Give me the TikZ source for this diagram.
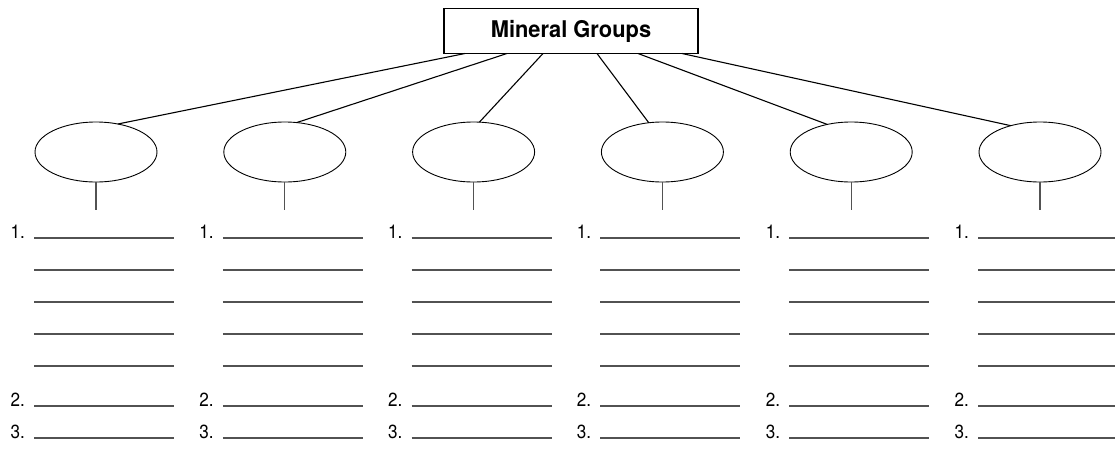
\documentclass[tikz,border=0pt]{standalone}
\usepackage{fontspec}
\newfontfamily\titlefont[FakeStretch=0.95]{TeX Gyre Heros}
\newfontfamily\numfont[FakeStretch=0.9]{TeX Gyre Heros}
\usetikzlibrary{shapes, positioning}

\begin{document}
\begin{tikzpicture}[x=1pt,y=-1pt,line width=1.1pt]
	
	\tikzset{title st/.style={rectangle, draw, minimum width=254pt,
			minimum height=45pt, inner sep=0pt, outer sep=0pt,
			font=\titlefont\bfseries\fontsize{23}{26}\selectfont},
		group st/.style={ellipse, draw, minimum width=122pt,
			minimum height=60pt, inner sep=0pt, outer sep=0pt, line width=0.9pt},
		blank/.style={draw=black!68, line width=1.3pt},
		num st/.style={anchor=base west, inner sep=0pt,
			font=\numfont\fontsize{19}{21}\selectfont}}
	
	\useasboundingbox (0,0) rectangle (1115,450);
	
	\node[title st] (T) at (571,31) {Mineral Groups};
	
	\node[group st] (G1) at (96,152) {};
	\node[group st, right=66.8pt of G1] (G2) {};
	\node[group st, right=66.8pt of G2] (G3) {};
	\node[group st, right=66.8pt of G3] (G4) {};
	\node[group st, right=66.8pt of G4] (G5) {};
	\node[group st, right=66.8pt of G5] (G6) {};
	
	\coordinate (t1) at ([xshift=21pt]T.south west);
	\coordinate (t2) at ([xshift=63pt]T.south west);
	\coordinate (t3) at ([xshift=99pt]T.south west);
	\coordinate (t4) at ([xshift=153pt]T.south west);
	\coordinate (t5) at ([xshift=194pt]T.south west);
	\coordinate (t6) at ([xshift=238pt]T.south west);
	
	\draw (t1) -- (G1.52);
	\draw (t2) -- (G2.68);
	\draw (t3) -- (G3.79);
	\draw (t4) -- (G4.115);
	\draw (t5) -- (G5.131);
	\draw (t6) -- (G6.138);
	
	% stems, answer lines and numbers
	\foreach \i [evaluate=\i as \cx using 96+188.8*(\i-1)] in {1,...,6} {
		\draw[blank, line width=1.1pt] (G\i.south) -- ++(0,28);
		\foreach \y in {238,270,302,334,366,406,438}
			\draw[blank] ({\cx-62},\y) -- ({\cx+78},\y);
		\node[num st] (a\i) at ({\cx-86},238) {1.};
		\node[num st] (b\i) at ({\cx-86},406) {2.};
		\node[num st] (c\i) at ({\cx-86},438) {3.};
	}
	
\end{tikzpicture}
\end{document}
